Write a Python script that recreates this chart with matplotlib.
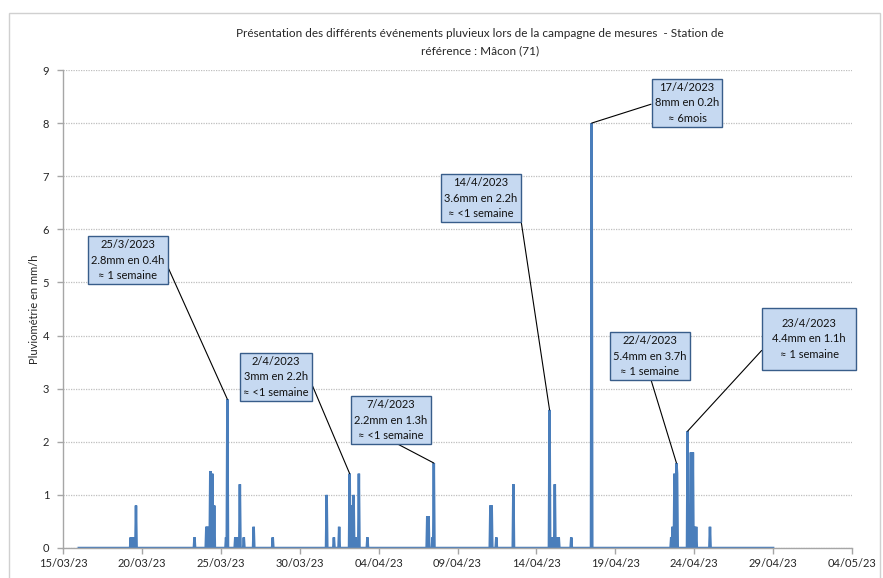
import matplotlib

matplotlib.use("Agg")

import matplotlib.dates as mdates
import matplotlib.pyplot as plt
import numpy as np
import pandas as pd
from matplotlib.patches import Rectangle

plt.rcParams["font.family"] = ["Lato", "DejaVu Sans"]

TITLE = ("Présentation des différents événements pluvieux lors de la campagne de mesures  - Station de\n"
         "référence : Mâcon (71)")
Y_LABEL = "Pluviométrie en mm/h"

SERIES_START = "2023-03-16 00:00"
SERIES_END = "2023-04-29 00:00"

# hourly rain intensity (mm/h), zero elsewhere
event_times = [
    "2023-03-19 07:00", "2023-03-19 11:00", "2023-03-19 15:00",
    "2023-03-23 08:00",
    "2023-03-24 02:00", "2023-03-24 04:00", "2023-03-24 08:00", "2023-03-24 11:00", "2023-03-24 14:00",
    "2023-03-25 08:00", "2023-03-25 10:00", "2023-03-25 22:00",
    "2023-03-26 01:00", "2023-03-26 05:00", "2023-03-26 11:00",
    "2023-03-27 02:00", "2023-03-28 07:00",
    "2023-03-31 17:00",
    "2023-04-01 04:00", "2023-04-01 12:00",
    "2023-04-02 04:00", "2023-04-02 06:00", "2023-04-02 10:00", "2023-04-02 13:00", "2023-04-02 18:00",
    "2023-04-03 07:00",
    "2023-04-07 02:00", "2023-04-07 04:00", "2023-04-07 10:00", "2023-04-07 12:00",
    "2023-04-11 02:00", "2023-04-11 04:00", "2023-04-11 11:00",
    "2023-04-12 13:00",
    "2023-04-14 20:00", "2023-04-14 23:00",
    "2023-04-15 02:00", "2023-04-15 04:00", "2023-04-15 07:00", "2023-04-15 10:00",
    "2023-04-16 05:00",
    "2023-04-17 12:00",
    "2023-04-22 13:00", "2023-04-22 15:00", "2023-04-22 18:00", "2023-04-22 19:00",
    "2023-04-22 21:00", "2023-04-22 22:00",
    "2023-04-23 14:00", "2023-04-23 19:00", "2023-04-23 22:00",
    "2023-04-24 00:00", "2023-04-24 03:00",
    "2023-04-25 00:00",
]
event_values = [
    0.2, 0.2, 0.8,
    0.2,
    0.4, 0.4, 1.45, 1.4, 0.8,
    0.2, 2.8, 0.2,
    0.2, 1.2, 0.2,
    0.4, 0.2,
    1.0,
    0.2, 0.4,
    1.4, 0.8, 1.0, 0.2, 1.4,
    0.2,
    0.6, 0.6, 0.2, 1.6,
    0.8, 0.8, 0.2,
    1.2,
    2.6, 0.2,
    0.2, 1.2, 0.2, 0.2,
    0.2,
    8.0,
    0.2, 0.4, 1.4, 1.2,
    1.6, 1.4,
    2.2, 1.8, 1.8,
    0.4, 0.4,
    0.4,
]

# callouts: date of the peak, its text, and box centre in image pixels
callout_times = ["2023-03-25 10:00", "2023-04-02 04:00", "2023-04-07 12:00", "2023-04-14 20:00",
                 "2023-04-17 12:00", "2023-04-22 21:00", "2023-04-23 14:00"]
callout_texts = [
    "25/3/2023\n2.8mm en 0.4h\n≈ 1 semaine",
    "2/4/2023\n3mm en 2.2h\n≈ <1 semaine",
    "7/4/2023\n2.2mm en 1.3h\n≈ <1 semaine",
    "14/4/2023\n3.6mm en 2.2h\n≈ <1 semaine",
    "17/4/2023\n8mm en 0.2h\n≈ 6mois",
    "22/4/2023\n5.4mm en 3.7h\n≈ 1 semaine",
    "23/4/2023\n4.4mm en 1.1h\n≈ 1 semaine",
]
callout_boxes = [(128, 260), (276, 377), (391, 420), (481, 198), (687, 103), (650, 356), (809, 339)]
callout_anchor = [(1, 0.5), (1, 0.5), (0.5, 0), (1, 0.5), (0, 0.5), (0.5, 0), (0, 0.5)]
callout_pad = [0.3, 0.3, 0.3, 0.3, 0.3, 0.3, 0.9]

X_TICKS = pd.date_range("2023-03-15", "2023-05-04", freq="5D")

W, H = 883, 578
LINE_COLOR = "#4a7ebb"
GRID_COLOR = "#bfbfbf"
AXIS_COLOR = "#a6a6a6"

hours = pd.date_range(SERIES_START, SERIES_END, freq="h")
rain = pd.Series(0.0, index=hours)
rain[pd.to_datetime(event_times)] = event_values

fig = plt.figure(figsize=(W / 100, H / 100), dpi=100)
ax = fig.add_axes([63 / W, 30 / H, (852 - 63) / W, (548 - 70) / H])

fig.patches.append(Rectangle((9 / W, -0.01), (880 - 9) / W, (H - 13) / H + 0.01,
                             transform=fig.transFigure, fill=False,
                             edgecolor="#d0d0d0", linewidth=1.0))

ax.plot(rain.index, rain.values, color=LINE_COLOR, linewidth=1.8, solid_joinstyle="miter")

ax.set_xlim(X_TICKS[0], X_TICKS[-1])
ax.set_ylim(0, 9)
ax.set_xticks(X_TICKS)
ax.xaxis.set_major_formatter(mdates.DateFormatter("%d/%m/%y"))
ax.set_yticks(np.arange(0, 10, 1))
ax.yaxis.grid(True, linestyle=(0, (1, 1)), color=GRID_COLOR, linewidth=0.9)
ax.set_axisbelow(True)

for side in ("top", "right"):
    ax.spines[side].set_visible(False)
for side in ("left", "bottom"):
    ax.spines[side].set_color(AXIS_COLOR)
    ax.spines[side].set_linewidth(1.0)
ax.tick_params(axis="both", colors=AXIS_COLOR, length=4, width=1.0, labelcolor="#262626",
               labelsize=8)
ax.tick_params(axis="y", pad=6)

ax.set_ylabel(Y_LABEL, fontsize=8, color="#262626", labelpad=2)
fig.text(480 / W, 1 - 42 / H, TITLE, ha="center", va="center", fontsize=8.5,
         color="#262626", linespacing=1.7)

for t, text, (bx, by), rel, pad in zip(callout_times, callout_texts, callout_boxes,
                                       callout_anchor, callout_pad):
    ts = pd.Timestamp(t)
    ax.annotate(
        text,
        xy=(ts, rain[ts]),
        xytext=(bx, H - by),
        textcoords="figure pixels",
        ha="center",
        va="center",
        fontsize=8,
        color="#111111",
        linespacing=1.45,
        bbox=dict(boxstyle=f"square,pad={pad}", facecolor="#c6d9f1", edgecolor="#385d8a",
                  linewidth=1.0),
        arrowprops=dict(arrowstyle="-", color="black", linewidth=0.8, relpos=rel,
                        shrinkA=0, shrinkB=0),
    )

fig.savefig("out.png", dpi=100)
